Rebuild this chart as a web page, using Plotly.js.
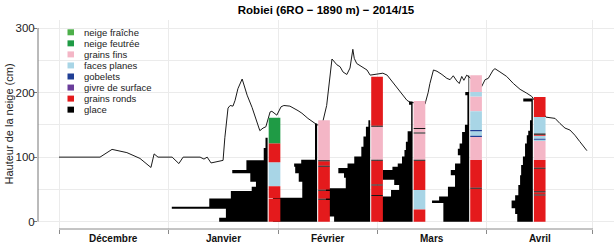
<!DOCTYPE html>
<html><head><meta charset="utf-8">
<script src="https://cdn.plot.ly/plotly-3.0.1.min.js"></script>
<style>html,body{margin:0;padding:0;background:#fff}#chart{width:616px;height:247px}</style>
</head><body><div id="chart"></div>
<script>
// ---------- DATA ----------
const titleText = 'Robiei (6RO − 1890 m) − 2014/15';
const yTitle = 'Hauteur de la neige (cm)';
const monthLabels = ['Décembre', 'Janvier', 'Février', 'Mars', 'Avril'];
const monthStarts = ['2014-12-01', '2015-01-01', '2015-02-01', '2015-03-01', '2015-04-01', '2015-05-01'];
const seasonStart = '2014-12-01';

const grainTypes = ['neige fraîche', 'neige feutrée', 'grains fins', 'faces planes', 'gobelets', 'givre de surface', 'grains ronds', 'glace'];
const grainColors = ['#4daf4a', '#1f9b45', '#f4b6c6', '#a8d5e6', '#203f95', '#6a3d9a', '#e41a1c', '#000000'];

// snow height (days since 1 Dec 2014, cm)
const snowDay = [0.0, 11.6, 15.0, 19.2, 22.9, 26.0, 26.9, 28.0, 32.0, 33.9, 35.1, 39.9, 41.0, 41.9, 43.0, 45.5, 46.4, 46.9, 47.8, 48.4, 49.2, 49.8, 50.6, 51.8, 53.2, 54.6, 56.0, 56.8, 57.7, 58.5, 59.7, 60.2, 61.6, 62.8, 63.6, 65.3, 67.6, 68.7, 70.4, 71.8, 73.0, 74.4, 75.7, 77.2, 78.6, 79.5, 80.3, 81.4, 82.3, 83.1, 83.5, 84.2, 85.7, 87.1, 88.0, 91.6, 92.8, 94.5, 96.4, 98.4, 99.3, 103.5, 104.4, 104.9, 105.9, 106.9, 108.3, 109.7, 110.6, 111.5, 112.5, 113.2, 113.9, 114.5, 115.3, 115.8, 119.5, 120.5, 121.4, 122.8, 123.3, 124.7, 126.6, 128.5, 130.4, 132.3, 133.7, 137.7, 140.3, 141.7, 143.1, 144.5, 145.9, 147.3, 148.8, 149.3];
const snowHeight = [100, 100, 112, 107, 98, 84, 105, 100, 100, 90, 100, 100, 97, 100, 91, 94, 95, 130, 176, 180, 179, 188, 206, 221, 196, 177, 152, 141, 145, 147, 170, 171, 165, 178, 180, 179, 172, 168, 160, 154, 150, 150, 180, 252, 243, 240, 232, 228, 238, 267, 253, 245, 240, 235, 227, 230, 227, 215, 201, 188, 185, 182, 200, 214, 235, 233, 228, 222, 220, 226, 218, 214, 225, 219, 227, 225, 209, 220, 222, 235, 237, 232, 225, 214, 205, 199, 194, 162, 160, 152, 145, 142, 134, 124, 114, 110];

// snow profiles
const profileDates = ['2015-01-29', '2015-02-12', '2015-02-27', '2015-03-11', '2015-03-27', '2015-04-14'];
// layer tops (cm, bottom to top) and grain type index
const layerTops = [
  [35, 36, 55, 92, 121, 161],
  [34, 35.5, 48, 49.5, 85, 86.5, 93.5, 95, 157],
  [40, 41.5, 56, 57.5, 94.5, 96, 147, 148.5, 224.5],
  [19, 49, 94.5, 96, 136.5, 138, 143.5, 145, 187],
  [51, 52.5, 95.5, 131, 133, 140, 142, 171, 194, 201, 227],
  [40.5, 42, 45.5, 47, 82, 83.5, 95.5, 125, 127, 128.5, 133, 134.5, 136.5, 162, 193]
];
const layerTypes = [
  [6, 7, 6, 3, 6, 1],
  [6, 7, 6, 7, 6, 7, 6, 7, 2],
  [6, 7, 6, 7, 6, 7, 2, 7, 6],
  [6, 3, 6, 7, 2, 7, 2, 7, 2],
  [6, 7, 6, 2, 4, 3, 4, 3, 2, 3, 2],
  [6, 7, 6, 7, 6, 7, 6, 2, 3, 4, 3, 6, 7, 3, 6]
];
// ram hardness profile: layer boundaries (cm, top to bottom) and resistance (N)
const hardBounds = [
  [130, 114, 95, 80, 75, 62, 54, 47.5, 36, 23, 20, 6, 0],
  [152, 96, 90, 85, 75, 62, 37, 0],
  [157, 147, 132, 116, 101, 90, 83, 75, 68, 52, 8, 0],
  [186, 181, 140, 124, 111, 101, 90, 85, 80, 65, 57, 49, 39, 0],
  [227, 201, 196, 150, 139, 121, 113, 103, 90, 80, 72, 54, 39, 33, 29, 0],
  [191, 186, 157, 141, 134, 121, 108, 101, 88, 72, 57, 41, 33, 21, 12, 0]
];
const hardValues = [
  [6, 11, 60, 100, 49, 33, 45, 104, 165, 271, 118, 137],
  [6, 45, 65, 62, 52, 42, 125],
  [5, 12, 19, 25, 45, 64, 90, 74, 69, 125, 102],
  [10, 4, 14, 19, 23, 30, 42, 57, 85, 52, 38, 61, 95],
  [2, 11, 5, 12, 20, 27, 32, 25, 40, 52, 40, 60, 85, 105, 73],
  [27, 4, 8, 13, 17, 22, 22, 28, 33, 36, 41, 50, 60, 50, 44]
];

// ---------- STYLE ----------
const hardScale = 0.1;      // days of x per N
const barGap = 0.3;         // days
const barWidth = 3.3;       // days
const FONT = 'Liberation Sans, Arial, Helvetica, sans-serif';
const W = 616, H = 247, ML = 38, MR = 2, MT = 20, MB = 18;
const PW = W - ML - MR, PH = H - MT - MB;

function dayOf(s) {
  return (Date.parse(s + 'T00:00:00Z') - Date.parse(seasonStart + 'T00:00:00Z')) / 864e5;
}
const px2paperX = px => (px - ML) / PW;
const px2paperY = py => (H - MB - py) / PH;

const traces = [];
// snow height line (drawn first, so profiles cover it)
traces.push({type: 'scatter', mode: 'lines', x: snowDay, y: snowHeight,
  line: {color: '#1a1a1a', width: 1}, hoverinfo: 'skip'});

// hardness profiles (all before the layer columns)
profileDates.forEach((d, p) => {
  const x0 = dayOf(d);
  const b = hardBounds[p], v = hardValues[p];
  const xs = [x0], ys = [b[0]];
  for (let i = 0; i < v.length; i++) {
    xs.push(x0 - v[i] * hardScale, x0 - v[i] * hardScale);
    ys.push(b[i], b[i + 1]);
  }
  xs.push(x0, x0); ys.push(b[b.length - 1], b[0]);
  traces.push({type: 'scatter', mode: 'lines', x: xs, y: ys, fill: 'toself',
    fillcolor: '#000', line: {width: 0, color: '#000'}, hoverinfo: 'skip'});
});

// profile layers: one filled-rectangle trace per grain type
grainTypes.forEach((g, t) => {
  const xs = [], ys = [];
  profileDates.forEach((d, p) => {
    const l = dayOf(d) + barGap, r = l + barWidth;
    let bottom = 0;
    layerTops[p].forEach((top, i) => {
      if (layerTypes[p][i] === t) {
        xs.push(l, r, r, l, l, null);
        ys.push(bottom, bottom, top, top, bottom, null);
      }
      bottom = top;
    });
  });
  if (xs.length) traces.push({type: 'scatter', mode: 'lines', name: g, x: xs, y: ys, fill: 'toself',
    fillcolor: grainColors[t], line: {width: 0, color: grainColors[t]}, opacity: t === 7 ? 0.9 : 1,
    connectgaps: false, hoverinfo: 'skip'});
});

// axes decorations
const monthTicks = monthStarts.map(dayOf);
const shapes = [
  {type: 'line', xref: 'x', yref: 'paper', x0: monthTicks[0], x1: monthTicks[monthTicks.length - 1], y0: 0, y1: 0, line: {color: '#8a8a8a', width: 1}},
  {type: 'line', xref: 'paper', yref: 'y', x0: 0, x1: 0, y0: 0, y1: 300, line: {color: '#777', width: 1}}
];
const annotations = [];
monthLabels.forEach((m, i) => {
  annotations.push({text: '<b>' + m + '</b>', xref: 'x', yref: 'paper', x: (monthTicks[i] + monthTicks[i + 1]) / 2, y: 0,
    yshift: -9, xanchor: 'center', yanchor: 'middle', showarrow: false, font: {family: FONT, size: 10, color: '#111'}});
});
annotations.push({text: yTitle, xref: 'paper', yref: 'paper', x: 0, y: 0.5, xshift: -30, textangle: -90,
  xanchor: 'center', yanchor: 'middle', showarrow: false, font: {family: FONT, size: 11, color: '#222'}});

// custom legend
grainTypes.forEach((g, i) => {
  const cy = 32.3 + 11.05 * i;
  shapes.push({type: 'rect', xref: 'paper', yref: 'paper', x0: px2paperX(67.5), x1: px2paperX(74), y0: px2paperY(cy + 3), y1: px2paperY(cy - 3),
    fillcolor: grainColors[i], line: {width: 0}});
  annotations.push({text: g, xref: 'paper', yref: 'paper', x: px2paperX(81.5), y: px2paperY(cy), xanchor: 'left', yanchor: 'middle',
    showarrow: false, font: {family: FONT, size: 9.5, color: '#222'}});
});

const layout = {
  width: W, height: H, margin: {l: ML, r: MR, t: MT, b: MB},
  paper_bgcolor: '#fff', plot_bgcolor: '#fff',
  font: {family: FONT, size: 11, color: '#222'},
  showlegend: false,
  title: {text: titleText, font: {family: FONT, size: 11.5, color: '#000', weight: 'bold'},
    xref: 'paper', x: 0.5, xanchor: 'center', yref: 'container', y: 1 - 10 / H, yanchor: 'middle'},
  xaxis: {range: [-5.94, 156.96], tickmode: 'array', tickvals: monthTicks, ticktext: monthTicks.map(() => ''),
    ticks: 'outside', ticklen: 4, tickcolor: '#8a8a8a', showgrid: true, gridcolor: '#ebebeb', gridwidth: 1,
    zeroline: false, showline: false},
  yaxis: {range: [-11.3, 312.4], tickmode: 'linear', tick0: 0, dtick: 100, ticks: 'outside', ticklen: 3, tickcolor: '#777',
    ticklabelstandoff: -3,
    showgrid: true, gridcolor: '#ebebeb', gridwidth: 1, minor: {dtick: 50, showgrid: true, gridcolor: '#ebebeb', ticks: ''},
    zeroline: false, showline: false, tickfont: {family: FONT, size: 11.5, color: '#222'}},
  shapes: shapes, annotations: annotations
};

Plotly.newPlot('chart', traces, layout, {staticPlot: true, displayModeBar: false});
</script>
</body></html>
